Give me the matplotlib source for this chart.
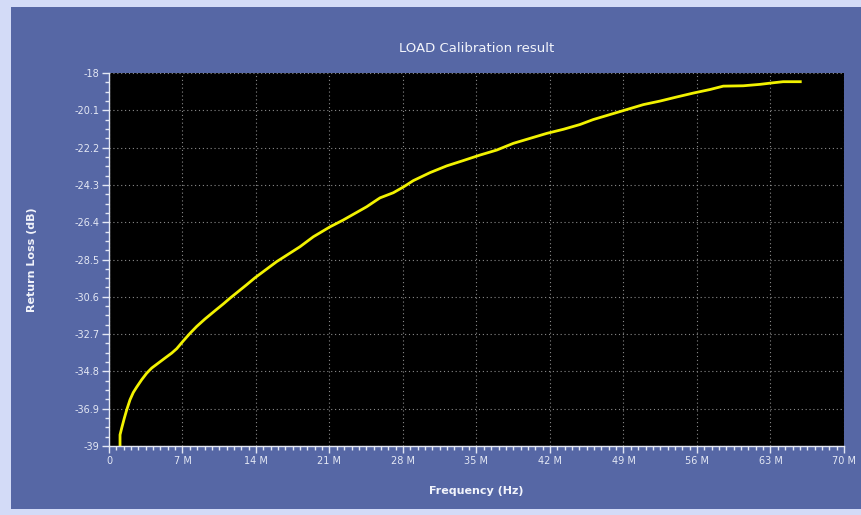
import matplotlib
matplotlib.use("Agg")
import matplotlib.pyplot as plt
from matplotlib.patches import Rectangle
from matplotlib.ticker import FixedLocator, AutoMinorLocator, FuncFormatter

# Measured return loss of the LOAD standard
freq_mhz = [1.05, 1.05, 1.21, 1.46, 1.69, 2.00, 2.31, 2.64, 3.11, 3.59, 4.07,
            4.70, 5.33, 5.97, 6.45, 7.08, 7.71, 8.35, 9.14, 10.10, 10.89,
            11.52, 13.11, 13.90, 15.97, 18.19, 19.46, 21.05, 22.30, 24.54,
            25.50, 25.81, 27.08, 28.03, 28.98, 30.57, 32.16, 33.74, 35.33,
            36.92, 38.51, 40.10, 41.69, 43.27, 44.86, 46.12, 47.71, 49.30,
            50.89, 52.48, 54.07, 55.65, 57.24, 58.50, 60.40, 62.00, 63.27,
            64.20, 65.97]
return_loss_db = [-39.00, -38.37, -37.99, -37.43, -36.96, -36.40, -35.99, -35.68,
                  -35.27, -34.90, -34.61, -34.33, -34.05, -33.77, -33.52, -33.08,
                  -32.66, -32.27, -31.85, -31.38, -31.00, -30.68, -29.92, -29.53,
                  -28.62, -27.78, -27.22, -26.66, -26.28, -25.53, -25.15, -25.03,
                  -24.74, -24.42, -24.06, -23.61, -23.23, -22.93, -22.62, -22.34,
                  -21.96, -21.68, -21.40, -21.17, -20.90, -20.62, -20.34, -20.06,
                  -19.78, -19.58, -19.35, -19.13, -18.93, -18.74, -18.72, -18.64,
                  -18.55, -18.49, -18.49]

x_ticks = [0, 7, 14, 21, 28, 35, 42, 49, 56, 63, 70]
y_ticks = [-18, -20.1, -22.2, -24.3, -26.4, -28.5, -30.6, -32.7, -34.8, -36.9, -39]

border_color = "#d3dbf7"
panel_color = "#5667a5"
text_color = "#f2f4fb"
tick_color = "#e4e8f4"

W, H = 862, 515
fig = plt.figure(figsize=(W / 100, H / 100), dpi=100)
fig.patch.set_facecolor(border_color)

# blue panel behind the chart
bg = fig.add_axes([0, 0, 1, 1], zorder=-10)
bg.set_xlim(0, W)
bg.set_ylim(H, 0)
bg.axis("off")
bg.add_patch(Rectangle((11, 7), W - 11, 509 - 7, facecolor=panel_color,
                       edgecolor="none"))

ax = fig.add_axes([109 / W, 1 - 446 / H, (844 - 109) / W, (446 - 73) / H], zorder=1)
ax.set_facecolor("black")
ax.plot(freq_mhz, return_loss_db, color="#f2f200", lw=2.0,
        solid_joinstyle="round", solid_capstyle="butt")

ax.set_xlim(0, 70)
ax.set_ylim(-39, -18)
ax.xaxis.set_major_locator(FixedLocator(x_ticks))
ax.yaxis.set_major_locator(FixedLocator(y_ticks))
ax.xaxis.set_minor_locator(AutoMinorLocator(10))
ax.yaxis.set_minor_locator(AutoMinorLocator(4))
ax.xaxis.set_major_formatter(FuncFormatter(lambda v, p: "0" if v == 0 else f"{v:g} M"))
ax.yaxis.set_major_formatter(FuncFormatter(lambda v, p: f"{v:g}"))

ax.grid(True, which="major", color="#8a8a8a", lw=0.8, linestyle=(0, (1, 2.5)))
ax.set_axisbelow(True)

for side in ("top", "right"):
    ax.spines[side].set_visible(False)
for side in ("left", "bottom"):
    ax.spines[side].set_color(tick_color)
    ax.spines[side].set_linewidth(1.0)

ax.tick_params(which="major", direction="out", length=5, width=1, color=tick_color,
               labelcolor=tick_color, labelsize=7, pad=2)
ax.tick_params(which="minor", direction="out", length=3, width=1, color=tick_color)

ax.set_title("LOAD Calibration result", color=text_color, fontsize=9.5, pad=15)
ax.set_xlabel("Frequency (Hz)", color=text_color, fontsize=8, fontweight="bold")
ax.xaxis.set_label_coords(0.5, -0.108)
ax.set_ylabel("Return Loss (dB)", color=text_color, fontsize=8, fontweight="bold")
ax.yaxis.set_label_coords(-0.098, 0.5)

fig.savefig("out.png", dpi=100, facecolor=fig.get_facecolor())
